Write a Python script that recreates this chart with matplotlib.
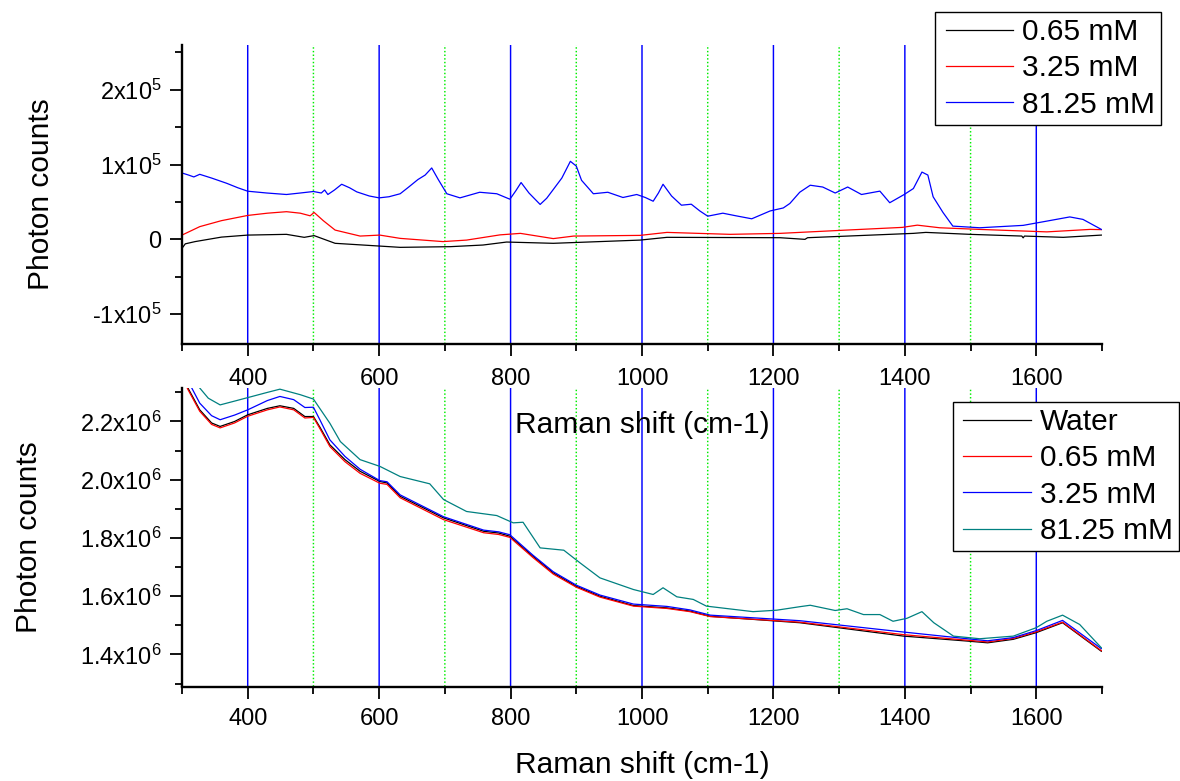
import numpy as np
import matplotlib
matplotlib.use("Agg")
import matplotlib.pyplot as plt
from matplotlib.ticker import FixedLocator, MultipleLocator
from matplotlib.legend_handler import HandlerLine2D
from matplotlib.lines import Line2D

plt.rcParams["font.family"] = ["Liberation Sans", "DejaVu Sans"]
plt.rcParams["mathtext.fontset"] = "custom"
plt.rcParams["mathtext.rm"] = "Liberation Sans"
plt.rcParams["mathtext.it"] = "Liberation Sans"
plt.rcParams["mathtext.bf"] = "Liberation Sans:bold"

# ---------------- data ----------------
# Upper panel: background-subtracted spectra (values in units of 1e5 counts)
top_x_blue = [300, 310, 318, 327, 345, 368, 385, 400, 429, 459, 480, 500, 512, 517, 522,
              532, 543, 555, 566, 585, 600, 615, 632, 645, 659, 670, 680, 690, 703, 723,
              753, 779, 799, 808, 816, 828, 845, 855, 865, 878, 891, 900, 908, 926, 948,
              971, 992, 1005, 1017, 1025, 1032, 1045, 1060, 1075, 1088, 1100, 1123, 1143,
              1167, 1195, 1215, 1225, 1240, 1256, 1275, 1294, 1313, 1334, 1362, 1377, 1399,
              1413, 1426, 1435, 1443, 1458, 1473, 1514, 1580, 1616, 1651, 1671, 1699]
top_y_blue = [0.888, 0.86, 0.835, 0.87, 0.82, 0.75, 0.69, 0.644, 0.62, 0.60, 0.62, 0.64, 0.62, 0.66, 0.60,
              0.66, 0.737, 0.69, 0.635, 0.58, 0.555, 0.57, 0.61, 0.70, 0.80, 0.86, 0.955, 0.80, 0.61, 0.555,
              0.63, 0.61, 0.537, 0.65, 0.76, 0.62, 0.467, 0.55, 0.667, 0.82, 1.044, 0.98, 0.79, 0.61, 0.63,
              0.56, 0.60, 0.56, 0.51, 0.62, 0.737, 0.58, 0.457, 0.47, 0.38, 0.31, 0.35, 0.315,
              0.275, 0.38, 0.42, 0.48, 0.63, 0.724, 0.70, 0.62, 0.70, 0.60, 0.645, 0.49, 0.60,
              0.68, 0.90, 0.86, 0.57, 0.36, 0.177, 0.155, 0.187, 0.244, 0.30, 0.267, 0.133]

top_x_red = [300, 327, 360, 400, 430, 459, 480, 495, 501, 515, 533, 571, 601, 632, 697, 733,
             784, 815, 865, 896, 997, 1038, 1134, 1210, 1311, 1396, 1419, 1453, 1514, 1616, 1682, 1699]
top_y_red = [0.057, 0.17, 0.25, 0.32, 0.35, 0.37, 0.35, 0.315, 0.36, 0.25, 0.124, 0.044, 0.057, 0.013,
             -0.03, -0.01, 0.06, 0.08, 0.01, 0.044, 0.053, 0.093, 0.067, 0.08, 0.124, 0.16, 0.19, 0.155,
             0.133, 0.10, 0.133, 0.13]

top_x_black = [300, 305, 320, 360, 400, 459, 486, 501, 533, 601, 632, 708, 758, 794, 865, 997,
               1038, 1210, 1248, 1252, 1413, 1432, 1499, 1578, 1580, 1582, 1641, 1699]
top_y_black = [-0.12, -0.06, -0.03, 0.03, 0.057, 0.067, 0.027, 0.05, -0.053, -0.09, -0.107, -0.098,
               -0.076, -0.036, -0.053, -0.01, 0.027, 0.022, 0.0, 0.022, 0.08, 0.093, 0.067, 0.044,
               0.02, 0.044, 0.027, 0.057]

top_labels = ["0.65 mM", "3.25 mM", "81.25 mM"]

# Lower panel: raw spectra (values in units of 1e6 counts)
bot_x = [300, 309, 327, 345, 358, 380, 400, 430, 449, 470, 487, 500, 510, 525, 548, 571, 601,
         612, 632, 698, 759, 782, 799, 834, 865, 900, 936, 987, 1038, 1073, 1104, 1240, 1398,
         1495, 1526, 1565, 1600, 1640, 1699]
bot_water = [2.36, 2.315, 2.24, 2.195, 2.183, 2.20, 2.223, 2.245, 2.254, 2.245, 2.217, 2.217, 2.18,
             2.12, 2.069, 2.029, 1.994, 1.989, 1.943, 1.869, 1.823, 1.817, 1.806, 1.737, 1.68, 1.634,
             1.60, 1.568, 1.56, 1.549, 1.531, 1.509, 1.463, 1.446, 1.44, 1.452, 1.475, 1.509, 1.411]
bot_065 = [2.355, 2.31, 2.235, 2.19, 2.178, 2.195, 2.218, 2.24, 2.25, 2.24, 2.212, 2.214, 2.175,
           2.114, 2.062, 2.022, 1.988, 1.984, 1.938, 1.863, 1.818, 1.812, 1.802, 1.733, 1.676, 1.631,
           1.597, 1.566, 1.558, 1.547, 1.53, 1.511, 1.468, 1.449, 1.443, 1.455, 1.478, 1.511, 1.413]
bot_325 = [2.39, 2.34, 2.263, 2.22, 2.206, 2.222, 2.24, 2.272, 2.286, 2.275, 2.248, 2.249, 2.205,
           2.137, 2.08, 2.036, 1.997, 1.993, 1.948, 1.873, 1.827, 1.821, 1.811, 1.741, 1.684, 1.638,
           1.604, 1.573, 1.565, 1.553, 1.535, 1.516, 1.477, 1.454, 1.447, 1.458, 1.482, 1.517, 1.42]

bot_x_teal = [300, 315, 327, 340, 358, 380, 400, 430, 449, 480, 500, 525, 541, 571, 601, 632, 677,
              698, 733, 779, 804, 819, 845, 881, 906, 936, 987, 1017, 1032, 1053, 1078, 1098, 1169,
              1205, 1240, 1256, 1294, 1312, 1337, 1362, 1382, 1403, 1426, 1444, 1474, 1514, 1565,
              1600, 1616, 1640, 1666, 1699]
bot_teal = [2.42, 2.36, 2.315, 2.28, 2.257, 2.27, 2.282, 2.30, 2.311, 2.292, 2.277, 2.194, 2.131,
            2.069, 2.046, 2.011, 1.986, 1.932, 1.891, 1.877, 1.852, 1.854, 1.766, 1.758, 1.714, 1.663,
            1.623, 1.606, 1.629, 1.598, 1.589, 1.566, 1.547, 1.552, 1.564, 1.569, 1.551, 1.557, 1.537,
            1.537, 1.514, 1.524, 1.547, 1.509, 1.463, 1.454, 1.463, 1.492, 1.514, 1.535, 1.503, 1.423]

bot_labels = ["Water", "0.65 mM", "3.25 mM", "81.25 mM"]

major_x = [400, 600, 800, 1000, 1200, 1400, 1600]
minor_x = [300, 500, 700, 900, 1100, 1300, 1500, 1700]
minor_grid_x = [500, 700, 900, 1100, 1300, 1500]

top_yticks = [-1e5, 0, 1e5, 2e5]
top_yticklabels = [r"-1x10$^{\mathregular{5}}$", "0", r"1x10$^{\mathregular{5}}$",
                   r"2x10$^{\mathregular{5}}$"]
bot_yticks = [1.4e6, 1.6e6, 1.8e6, 2.0e6, 2.2e6]
bot_yticklabels = [r"1.4x10$^{\mathregular{6}}$", r"1.6x10$^{\mathregular{6}}$",
                   r"1.8x10$^{\mathregular{6}}$", r"2.0x10$^{\mathregular{6}}$",
                   r"2.2x10$^{\mathregular{6}}$"]

# ---------------- figure ----------------
W, H = 1180, 781
fig = plt.figure(figsize=(W / 100, H / 100), dpi=100)


def rect(l, t, r, b):
    return [l / W, 1 - b / H, (r - l) / W, (b - t) / H]


ax1 = fig.add_axes(rect(182, 45, 1102, 344))
ax2 = fig.add_axes(rect(182, 388, 1102, 686.5))
ax1.set_zorder(3)

FS_TICK = 17
FS_LABEL = 21.5


def style(ax, xpad):
    for s in ("top", "right"):
        ax.spines[s].set_visible(False)
    for s in ("left", "bottom"):
        ax.spines[s].set_linewidth(1.7)
    ax.set_xlim(300, 1700)
    ax.xaxis.set_major_locator(FixedLocator(major_x))
    ax.xaxis.set_minor_locator(FixedLocator(minor_x))
    ax.tick_params(which="major", direction="out", length=8.8, width=1.3, labelsize=FS_TICK)
    ax.tick_params(which="minor", direction="out", length=5.0, width=1.3)
    ax.tick_params(axis="x", which="major", pad=xpad)
    ax.tick_params(axis="y", which="major", pad=5.8)
    for x in major_x:
        ax.axvline(x, color="#0000ff", lw=1.05, snap=False, zorder=0.5)
    for x in minor_grid_x:
        ax.axvline(x, color="#00ee00", lw=1.05, ls=(0, (1, 1.5)), snap=False, zorder=0.5)
    ax.set_xlabel("Raman shift (cm-1)", fontsize=FS_LABEL, labelpad=15)
    ax.set_ylabel("Photon counts", fontsize=FS_LABEL, labelpad=26.5)


style(ax1, 8.7)
style(ax2, 7.0)

# upper panel
ax1.plot(top_x_black, np.array(top_y_black) * 1e5, color="black", lw=0.9)
ax1.plot(top_x_red, np.array(top_y_red) * 1e5, color="#ff0000", lw=0.9)
ax1.plot(top_x_blue, np.array(top_y_blue) * 1e5, color="#0000ff", lw=0.9)
ax1.set_ylim(-1.4e5, 2.6e5)
ax1.yaxis.set_major_locator(FixedLocator(top_yticks))
ax1.set_yticklabels(top_yticklabels)
ax1.yaxis.set_minor_locator(MultipleLocator(0.5e5))

# lower panel
ax2.plot(bot_x, np.array(bot_water) * 1e6, color="black", lw=0.9)
ax2.plot(bot_x, np.array(bot_065) * 1e6, color="#ff0000", lw=0.9)
ax2.plot(bot_x, np.array(bot_325) * 1e6, color="#0000ff", lw=0.9)
ax2.plot(bot_x_teal, np.array(bot_teal) * 1e6, color="#008080", lw=0.9)
ax2.set_ylim(1.29e6, 2.315e6)
ax2.yaxis.set_major_locator(FixedLocator(bot_yticks))
ax2.set_yticklabels(bot_yticklabels)
ax2.yaxis.set_minor_locator(MultipleLocator(0.1e6))

# legends
handler = {Line2D: HandlerLine2D(numpoints=2, marker_pad=0.16)}
leg_kw = dict(loc="upper left", bbox_transform=fig.transFigure, fontsize=FS_LABEL,
              frameon=True, fancybox=False, edgecolor="black", framealpha=1,
              borderpad=0.2, labelspacing=0.28, handlelength=2.58, handletextpad=0.15,
              borderaxespad=0, handler_map=handler)

top_handles = [Line2D([], [], color=c, lw=0.9) for c in ("black", "#ff0000", "#0000ff")]
leg1 = ax1.legend(top_handles, top_labels, bbox_to_anchor=(935 / W, 1 - 12.0 / H), **leg_kw)
leg1.get_frame().set_linewidth(1.0)

bot_handles = [Line2D([], [], color=c, lw=0.9) for c in ("black", "#ff0000", "#0000ff", "#008080")]
leg2 = ax2.legend(bot_handles, bot_labels, bbox_to_anchor=(952.7 / W, 1 - 402.0 / H), **leg_kw)
leg2.get_frame().set_linewidth(1.0)

fig.savefig("out.png", dpi=100)
